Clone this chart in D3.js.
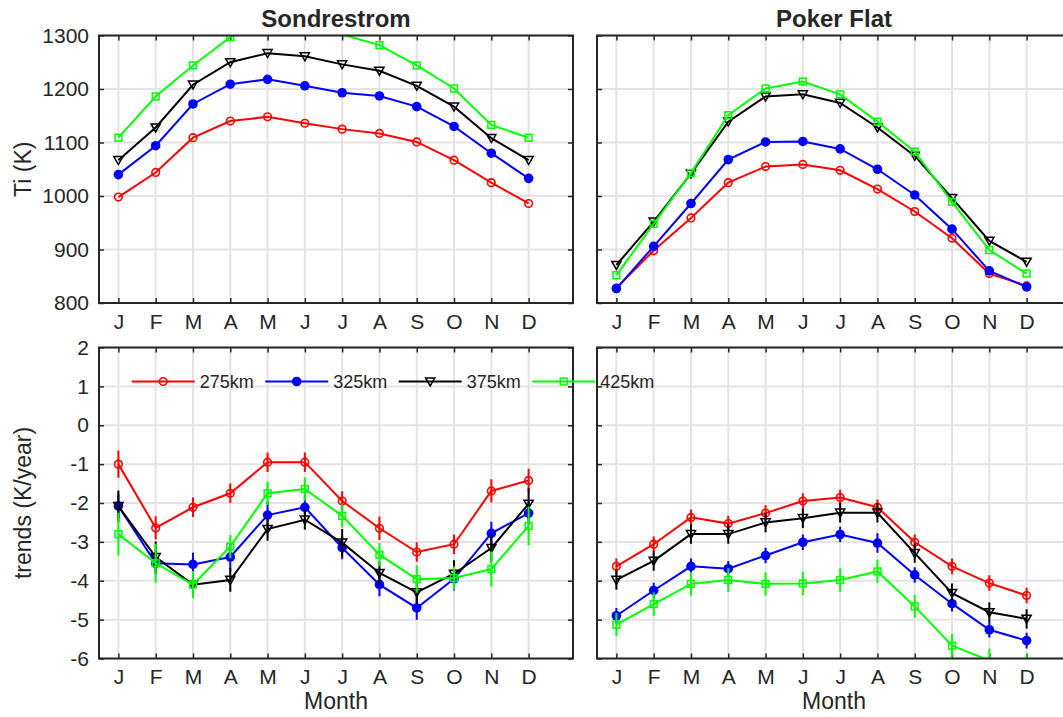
<!DOCTYPE html>
<html>
<head>
<meta charset="utf-8">
<script src="https://cdn.jsdelivr.net/npm/d3@7"></script>
<style>
body{margin:0;background:#fff}
text{font-family:"Liberation Sans",Arial,sans-serif;fill:#262626}
</style>
</head>
<body>
<div id="chart"></div>
<script>
var months = ["J","F","M","A","M","J","J","A","S","O","N","D"]
var heights = ["275km","325km","375km","425km"]
var colors = ["#ff0000","#0000ff","#000000","#00ff00"]
var markers = ["circle","dot","tri","square"]

var tiTicks = [800,900,1000,1100,1200,1300]
var trendTicks = [-6,-5,-4,-3,-2,-1,0,1,2]

// Sondrestrom ion temperature (K)
var sondTi275 = [998,1044,1109,1140,1148,1136,1125,1117,1101,1067,1025,986]
var sondTi325 = [1040,1094,1172,1209,1218,1206,1193,1187,1167,1130,1080,1033]
var sondTi375 = [1067,1128,1208,1250,1267,1261,1246,1234,1206,1167,1108,1067]
var sondTi425 = [1109,1186,1244,1297,1330,1325,1302,1282,1244,1201,1133,1109]

// Poker Flat ion temperature (K)
var pokerTi275 = [828,898,959,1025,1055,1059,1048,1013,971,921,855,832]
var pokerTi325 = [827,906,986,1068,1101,1102,1088,1050,1002,938,860,830]
var pokerTi375 = [871,952,1042,1139,1186,1190,1174,1128,1075,996,916,877]
var pokerTi425 = [852,948,1043,1151,1201,1214,1190,1139,1083,989,899,855]

// Sondrestrom trends (K/year) and error bars
var sondTr275 = [-1.0,-2.64,-2.11,-1.75,-0.95,-0.95,-1.95,-2.65,-3.26,-3.06,-1.69,-1.42]
var sondTr325 = [-2.08,-3.55,-3.58,-3.39,-2.31,-2.11,-3.15,-4.1,-4.7,-3.95,-2.78,-2.26]
var sondTr375 = [-2.08,-3.39,-4.1,-3.98,-2.67,-2.43,-3.02,-3.8,-4.3,-3.82,-3.16,-2.02]
var sondTr425 = [-2.8,-3.55,-4.1,-3.12,-1.75,-1.64,-2.33,-3.33,-3.96,-3.93,-3.7,-2.59]
var sondErr275 = [0.35,0.3,0.25,0.25,0.25,0.25,0.25,0.3,0.25,0.25,0.3,0.3]
var sondErr325 = [0.3,0.3,0.3,0.35,0.35,0.3,0.3,0.3,0.3,0.3,0.3,0.3]
var sondErr375 = [0.4,0.4,0.3,0.3,0.3,0.25,0.35,0.3,0.3,0.35,0.35,0.4]
var sondErr425 = [0.55,0.5,0.35,0.3,0.3,0.3,0.3,0.3,0.35,0.3,0.45,0.5]

// Poker Flat trends (K/year) and error bars
var pokerTr275 = [-3.63,-3.06,-2.37,-2.53,-2.26,-1.95,-1.86,-2.11,-3.01,-3.63,-4.06,-4.38]
var pokerTr325 = [-4.9,-4.25,-3.63,-3.69,-3.35,-3.01,-2.81,-3.03,-3.85,-4.59,-5.26,-5.54]
var pokerTr375 = [-3.98,-3.49,-2.8,-2.8,-2.5,-2.39,-2.25,-2.25,-3.29,-4.32,-4.81,-4.98]
var pokerTr425 = [-5.13,-4.6,-4.08,-3.98,-4.08,-4.07,-3.98,-3.76,-4.66,-5.67,-6.05,-6.25]
var pokerErr275 = [0.2,0.2,0.2,0.2,0.2,0.2,0.2,0.2,0.2,0.2,0.2,0.2]
var pokerErr325 = [0.2,0.2,0.2,0.2,0.2,0.2,0.2,0.25,0.2,0.2,0.2,0.2]
var pokerErr375 = [0.25,0.25,0.25,0.25,0.25,0.25,0.25,0.25,0.25,0.25,0.25,0.25]
var pokerErr425 = [0.3,0.3,0.3,0.3,0.3,0.3,0.3,0.3,0.3,0.3,0.3,0.35]

var svg = d3.select("#chart").append("svg").attr("width",1063).attr("height",717)

var clipId = 0

function drawMarker(g, kind, x, y, color){
    if(kind=="circle"){
        g.append("circle").attr("cx",x).attr("cy",y).attr("r",3.8)
        .attr("fill","none").attr("stroke",color).attr("stroke-width",1.6)
    } else if(kind=="dot"){
        g.append("circle").attr("cx",x).attr("cy",y).attr("r",4.8).attr("fill",color)
    } else if(kind=="tri"){
        g.append("path").attr("d","M"+(x-4.6)+","+(y-3.6)+"L"+(x+4.6)+","+(y-3.6)+"L"+x+","+(y+4.4)+"Z")
        .attr("fill","none").attr("stroke",color).attr("stroke-width",1.5)
    } else {
        g.append("rect").attr("x",x-3.4).attr("y",y-3.4).attr("width",6.8).attr("height",6.8)
        .attr("fill","none").attr("stroke",color).attr("stroke-width",1.5)
    }
}

function panel(x0,x1,y0,y1,domain,ticks,series,errs,opts){
    var xScale = d3.scaleLinear().domain([0.48,13.19]).range([x0,x1])
    var yScale = d3.scaleLinear().domain(domain).range([y1,y0])
    var g = svg.append("g")

    // grid
    g.selectAll(".vg").data(months).enter().append("line")
    .attr("x1",function(d,i){return xScale(i+1)}).attr("x2",function(d,i){return xScale(i+1)})
    .attr("y1",y0).attr("y2",y1).attr("stroke","#e3e3e3").attr("stroke-width",2)
    g.selectAll(".hg").data(ticks).enter().append("line")
    .attr("x1",x0).attr("x2",x1)
    .attr("y1",function(d){return yScale(d)}).attr("y2",function(d){return yScale(d)})
    .attr("stroke","#e3e3e3").attr("stroke-width",2)

    // axes with inward ticks
    var ax = d3.axisBottom(xScale).tickValues(d3.range(1,13)).tickFormat(function(d){return months[d-1]}).tickSizeInner(-5).tickSizeOuter(0).tickPadding(11)
    var axB = g.append("g").attr("transform","translate(0,"+y1+")").call(ax)
    var axT = g.append("g").attr("transform","translate(0,"+y0+")")
    .call(d3.axisTop(xScale).tickValues(d3.range(1,13)).tickFormat("").tickSizeInner(-5).tickSizeOuter(0))
    var ay = d3.axisLeft(yScale).tickValues(ticks).tickFormat(function(d){return String(d)}).tickSizeInner(-5).tickSizeOuter(0).tickPadding(10)
    var axL = g.append("g").attr("transform","translate("+x0+",0)").call(ay)
    var axR = g.append("g").attr("transform","translate("+x1+",0)")
    .call(d3.axisRight(yScale).tickValues(ticks).tickFormat("").tickSizeInner(-5).tickSizeOuter(0))
    ;[axB,axT,axL,axR].forEach(function(a){
        a.selectAll("path").remove()
        a.selectAll("line").attr("stroke","#262626").attr("stroke-width",1.5)
        a.selectAll("text").attr("font-size","21px").attr("fill","#262626").style("font-family","Liberation Sans, Arial, sans-serif")
    })
    if(!opts.yLabels) axL.selectAll("text").remove()

    // data
    clipId++
    svg.append("clipPath").attr("id","clip"+clipId).append("rect")
    .attr("x",x0).attr("y",y0).attr("width",x1-x0).attr("height",y1-y0)
    var dg = g.append("g").attr("clip-path","url(#clip"+clipId+")")
    var line = d3.line().x(function(d,i){return xScale(i+1)}).y(function(d){return yScale(d)})

    series.forEach(function(vals,k){
        var c = colors[k]
        dg.append("path").datum(vals).attr("d",line).attr("fill","none").attr("stroke",c).attr("stroke-width",2)
        if(errs){
            dg.selectAll(".eb"+k).data(vals).enter().append("line")
            .attr("x1",function(d,i){return xScale(i+1)}).attr("x2",function(d,i){return xScale(i+1)})
            .attr("y1",function(d,i){return yScale(d+errs[k][i])}).attr("y2",function(d,i){return yScale(d-errs[k][i])})
            .attr("stroke",c).attr("stroke-width",2)
        }
        vals.forEach(function(v,i){
            if(v<domain[0]||v>domain[1]) return
            drawMarker(dg,markers[k],xScale(i+1),yScale(v),c)
        })
    })

    // box
    g.append("rect").attr("x",x0).attr("y",y0).attr("width",x1-x0).attr("height",y1-y0)
    .attr("fill","none").attr("stroke","#262626").attr("stroke-width",2)

    if(opts.title){
        svg.append("text").text(opts.title).attr("x",(x0+x1)/2).attr("y",27)
        .attr("text-anchor","middle").attr("font-size","24px").attr("font-weight","bold").attr("fill","#000")
    }
    if(opts.xlabel){
        svg.append("text").text(opts.xlabel).attr("x",(x0+x1)/2).attr("y",y1+50)
        .attr("text-anchor","middle").attr("font-size","23px")
    }
    if(opts.ylabel){
        svg.append("text").text(opts.ylabel)
        .attr("transform","translate(31,"+((y0+y1)/2)+") rotate(-90)")
        .attr("text-anchor","middle").attr("font-size","23px")
    }
}

panel(99,573,35.5,303,[800,1300],tiTicks,[sondTi275,sondTi325,sondTi375,sondTi425],null,{title:"Sondrestrom",ylabel:"Ti (K)",yLabels:true})
panel(597,1071,35.5,303,[800,1300],tiTicks,[pokerTi275,pokerTi325,pokerTi375,pokerTi425],null,{title:"Poker Flat"})
panel(99,573,347.5,658.5,[-6,2],trendTicks,[sondTr275,sondTr325,sondTr375,sondTr425],
    [sondErr275,sondErr325,sondErr375,sondErr425],{ylabel:"trends (K/year)",xlabel:"Month",yLabels:true})
panel(597,1071,347.5,658.5,[-6,2],trendTicks,[pokerTr275,pokerTr325,pokerTr375,pokerTr425],
    [pokerErr275,pokerErr325,pokerErr375,pokerErr425],{xlabel:"Month"})

// legend (no box)
var lg = svg.append("g")
heights.forEach(function(h,k){
    var lx = 131.7 + k*133.5, ly = 381.5
    lg.append("line").attr("x1",lx).attr("x2",lx+63).attr("y1",ly).attr("y2",ly)
    .attr("stroke",colors[k]).attr("stroke-width",2)
    drawMarker(lg,markers[k],lx+31.5,ly,colors[k])
    lg.append("text").text(h).attr("x",lx+68).attr("y",ly+6.5).attr("font-size","18px").attr("fill","#000")
})
</script>
</body>
</html>
